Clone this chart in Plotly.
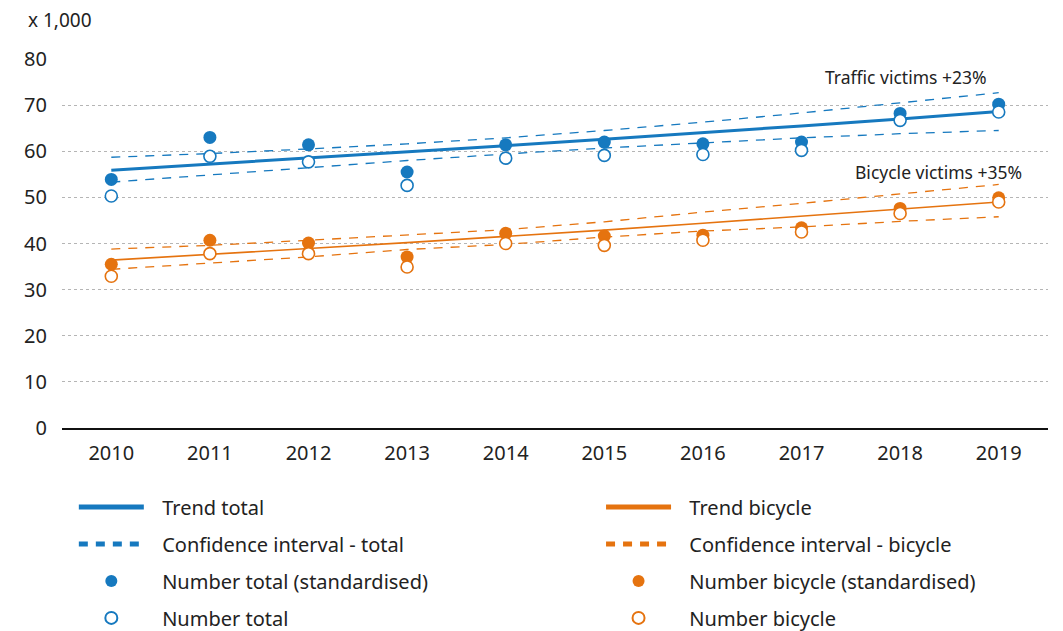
import plotly.graph_objects as go

# Years on the horizontal axis
years = ["2010", "2011", "2012", "2013", "2014", "2015", "2016", "2017", "2018", "2019"]

# Victims (x 1,000)
total_std = [53.9, 63.0, 61.4, 55.5, 61.4, 62.0, 61.6, 62.0, 68.2, 70.2]
total_num = [50.3, 58.9, 57.7, 52.6, 58.5, 59.1, 59.3, 60.2, 66.7, 68.5]
bike_std = [35.5, 40.7, 40.1, 37.1, 42.2, 41.6, 41.8, 43.4, 47.6, 49.9]
bike_num = [32.9, 37.8, 37.8, 34.9, 40.0, 39.6, 40.7, 42.5, 46.5, 49.0]

# Trend lines and their confidence bands
total_trend = [55.9, 57.2, 58.5, 59.8, 61.2, 62.6, 64.0, 65.5, 67.0, 68.6]
total_ci_hi = [58.7, 59.5, 60.5, 61.6, 62.9, 64.5, 66.3, 68.3, 70.5, 72.7]
total_ci_lo = [53.3, 54.9, 56.5, 58.0, 59.4, 60.7, 61.8, 62.9, 63.8, 64.5]
bike_trend = [36.4, 37.6, 38.9, 40.2, 41.5, 42.9, 44.4, 45.9, 47.4, 49.0]
bike_ci_hi = [38.8, 39.6, 40.7, 41.9, 43.0, 44.7, 46.8, 48.7, 50.8, 52.8]
bike_ci_lo = [34.4, 35.8, 37.1, 38.7, 39.8, 41.4, 42.7, 43.6, 44.8, 45.8]

y_ticks = [0, 10, 20, 30, 40, 50, 60, 70, 80]

BLUE = "#1679bf"
ORANGE = "#e5730f"
TEXT = "#222222"
FONT = "Noto Sans"
DASH = "9px,8px"
PAD = "\u2002\u2009"  # small gap between legend symbol and its label

fig = go.Figure()


def add_group(color, trend, hi, lo, std, num, names, legend, trend_width):
    # confidence band (two dashed lines, one legend entry)
    fig.add_trace(go.Scatter(
        x=years, y=hi, mode="lines", name=PAD + names[1],
        line=dict(color=color, width=1.3, dash=DASH),
        legend=legend, legendgroup=legend + "ci", legendrank=2, hoverinfo="skip"))
    fig.add_trace(go.Scatter(
        x=years, y=lo, mode="lines", name=PAD + names[1], showlegend=False,
        line=dict(color=color, width=1.3, dash=DASH),
        legend=legend, legendgroup=legend + "ci", hoverinfo="skip"))
    # trend
    fig.add_trace(go.Scatter(
        x=years, y=trend, mode="lines", name=PAD + names[0],
        line=dict(color=color, width=trend_width),
        legend=legend, legendgroup=legend + "trend", legendrank=1))
    # standardised numbers (filled)
    fig.add_trace(go.Scatter(
        x=years, y=std, mode="markers", name=PAD + names[2],
        marker=dict(symbol="circle", size=13, color=color, line=dict(width=0)),
        legend=legend, legendgroup=legend + "std", legendrank=3))
    # raw numbers (open)
    fig.add_trace(go.Scatter(
        x=years, y=num, mode="markers", name=PAD + names[3],
        marker=dict(symbol="circle", size=12, color="white", line=dict(color=color, width=1.6)),
        legend=legend, legendgroup=legend + "num", legendrank=4))


add_group(BLUE, total_trend, total_ci_hi, total_ci_lo, total_std, total_num,
          ["Trend total", "Confidence interval - total",
           "Number total (standardised)", "Number total"], "legend", 3)
add_group(ORANGE, bike_trend, bike_ci_hi, bike_ci_lo, bike_std, bike_num,
          ["Trend bicycle", "Confidence interval - bicycle",
           "Number bicycle (standardised)", "Number bicycle"], "legend2", 1.6)

legend_style = dict(
    orientation="v", yanchor="top", xanchor="left",
    font=dict(family=FONT, size=20, color=TEXT),
    tracegroupgap=8, itemwidth=65, bgcolor="rgba(0,0,0,0)",
    traceorder="grouped", itemsizing="constant",
)

fig.update_layout(
    width=1063, height=631,
    margin=dict(l=62, r=15, t=59, b=203, autoexpand=False),
    paper_bgcolor="white", plot_bgcolor="white",
    font=dict(family=FONT, size=20, color=TEXT),
    legend=dict(x=0.012, y=-0.161, **legend_style),
    legend2=dict(x=0.5467, y=-0.161, **legend_style),
    xaxis=dict(
        type="category", range=[-0.5, 9.5],
        showgrid=False, showline=True, linecolor="#111111", linewidth=2,
        ticks="", ticklabelstandoff=6,
        tickfont=dict(family=FONT, size=20, color=TEXT),
    ),
    yaxis=dict(
        range=[0, 80], tickvals=y_ticks,
        showgrid=True, gridcolor="#b5b5b5", gridwidth=1, griddash="dot",
        zeroline=False, showline=False, ticks="", ticklabelstandoff=14,
        tickfont=dict(family=FONT, size=20, color=TEXT),
    ),
    annotations=[
        dict(text="x 1,000", xref="paper", yref="paper", x=-0.037, y=1.105,
             xanchor="left", yanchor="middle", showarrow=False,
             font=dict(family=FONT, size=19, color=TEXT)),
        dict(text="Traffic victims +23%", xref="x", yref="y", x=9, y=76.0,
             xanchor="right", yanchor="middle", xshift=-10, showarrow=False,
             font=dict(family=FONT, size=17.5, color=TEXT)),
        dict(text="Bicycle victims +35%", xref="x", yref="y", x=9, y=55.6,
             xanchor="right", yanchor="middle", xshift=25, showarrow=False,
             font=dict(family=FONT, size=17.5, color=TEXT)),
    ],
)

fig.write_html("out.html")
